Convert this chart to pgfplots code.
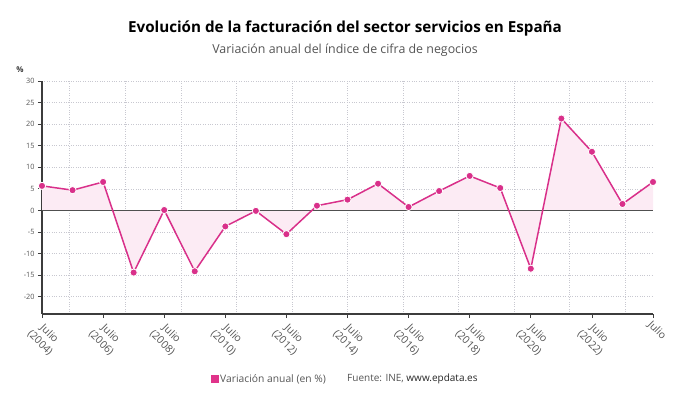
\documentclass[border=0pt]{standalone}
\usepackage{fontspec}
\setmainfont{Open Sans}
\usepackage{pgfplots}
\usepackage{pgfplotstable}
\pgfplotsset{compat=1.18}
\definecolor{linec}{HTML}{D9308A}
\definecolor{fillc}{HTML}{FCEBF4}
\definecolor{legc}{HTML}{E0338A}
\definecolor{gridc}{HTML}{C8C8D0}
\definecolor{axc}{HTML}{3C3C3C}
\definecolor{txt}{HTML}{555555}

\pgfplotstableread{
x y
0 5.7
1 4.7
2 6.6
3 -14.4
4 0.1
5 -14.1
6 -3.7
7 -0.1
8 -5.5
9 1.1
10 2.5
11 6.2
12 0.8
13 4.5
14 8.0
15 5.2
16 -13.5
17 21.3
18 13.6
19 1.5
20 6.6
}\datatable

\begin{document}
\begin{tikzpicture}[x=1pt,y=1pt]
\useasboundingbox (0,0) rectangle (690,405);
\node[font=\bfseries\fontsize{15.2}{18}\selectfont, text=black] at (345,376) {Evolución de la facturación del sector servicios en España};
\node[font=\fontsize{12.4}{14}\selectfont, text=txt] at (345,355) {Variación anual del índice de cifra de negocios};
\node[font=\bfseries\fontsize{8}{9}\selectfont, text=axc] at (20,335) {\%};
\begin{axis}[
  at={(42pt,91pt)}, anchor=south west, scale only axis,
  width=611pt, height=233pt,
  xmin=0, xmax=20, ymin=-24, ymax=30,
  axis lines*=left,
  axis line style={-, axc, line width=1.3pt},
  xtick={0,2,...,20},
  xticklabels={{Julio\\(2004)},{Julio\\(2006)},{Julio\\(2008)},{Julio\\(2010)},{Julio\\(2012)},{Julio\\(2014)},{Julio\\(2016)},{Julio\\(2018)},{Julio\\(2020)},{Julio\\(2022)},{Julio}},
  xticklabel style={rotate=-45, anchor=north west, align=center, font=\fontsize{10.5}{13}\selectfont, text=txt, inner sep=1pt},
  ytick={-20,-15,...,30},
  yticklabel style={font=\fontsize{7.3}{8}\selectfont, text=txt},
  /pgf/number format/assume math mode=true,
  tick align=outside,
  major tick length=4pt,
  tick style={axc, line width=0.8pt},
  ymajorgrids,
  major grid style={gridc, dotted, line width=0.6pt},
  minor xtick={0.909,2.727,4.545,6.364,8.182,10,11.818,13.636,15.455,17.273,19.091},
  xminorgrids,
  minor grid style={gridc, dotted, line width=0.6pt},
  minor tick length=0pt,
  clip=false,
  legend style={draw=none, fill=none, font=\fontsize{10.3}{12}\selectfont, text=txt, at={(0.276,-0.279)}, anchor=west, inner sep=0pt},
  legend cell align=left,
]
\addplot[fill=fillc, draw=none, forget plot] table[x=x,y=y]{\datatable} \closedcycle;
\draw[axc!90, line width=1.7pt] (axis cs:0,0) -- (axis cs:20,0);
\addplot[linec, line width=1.5pt, mark=*, mark size=3.6pt, mark options={fill=linec, draw=white, line width=0.8pt}, forget plot] table[x=x,y=y]{\datatable};
\addlegendimage{legend image code/.code={\fill[legc] (0pt,-3.5pt) rectangle (7pt,3.5pt);}}
\addlegendentry{Variación anual (en \%)}
\end{axis}
\node[anchor=west, font=\fontsize{10}{12}\selectfont, text=txt, inner sep=0pt] at (347,26) {Fuente: INE, \textcolor{black!85}{www.epdata.es}};
\end{tikzpicture}
\end{document}
